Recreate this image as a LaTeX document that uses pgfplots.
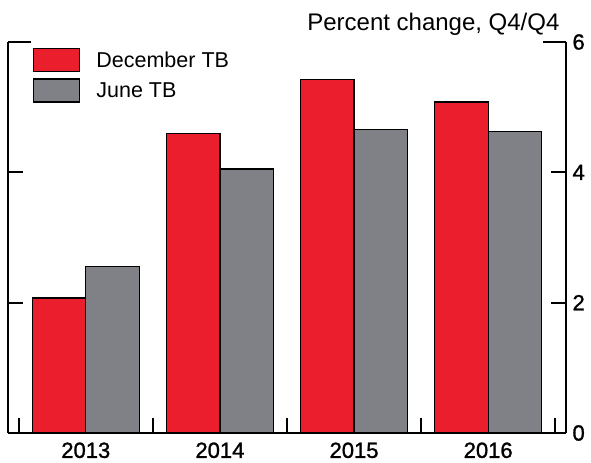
\documentclass[border=0pt]{standalone}
\usepackage{fontspec}
\setmainfont{Liberation Sans}
\newfontfamily\tickfont{Liberation Sans}[FakeBold=1.2]
\usepackage{pgfplots}
\pgfplotsset{compat=1.18}
\definecolor{tbred}{RGB}{234,30,45}
\definecolor{tbgray}{RGB}{128,129,134}

\begin{document}
\begin{tikzpicture}
\begin{axis}[
  scale only axis,
  width=558pt, height=391pt,
  xmin=-0.58, xmax=3.58,
  ymin=0, ymax=6,
  clip=false,
  axis x line*=bottom,
  axis line style={line width=1.8pt, -},
  ybar=0pt, bar width=0.4,
  xtick={-0.5,0.5,1.5,2.5,3.5}, xticklabels={},
  extra x ticks={0,1,2,3},
  extra x tick labels={2013,2014,2015,2016},
  extra x tick style={major tick length=0pt},
  ytick={0,2,4},
  extra y ticks={6},
  extra y tick style={major tick length=23pt},
  ytick pos=both, yticklabel pos=right,
  tick align=inside,
  major tick length=15pt,
  tick style={line width=1.8pt, black},
  /pgf/number format/assume math mode=true,
  tick label style={font=\tickfont\fontsize{22}{24}\selectfont},
  xticklabel style={yshift=-6pt},
  yticklabel style={xshift=3pt},
  legend style={at={(rel axis cs:0,1)}, anchor=north west,
    xshift=25pt, yshift=-6pt, draw=none, fill=none, inner sep=0pt,
    row sep=6pt, font=\fontsize{21.5}{24}\selectfont,
    /tikz/every odd column/.append style={column sep=14pt}},
  legend cell align=left,
  legend image code/.code={\draw[#1, draw=black, line width=1.2pt] (0pt,-11.5pt) rectangle (46pt,11.5pt);},
]
\addplot[fill=tbred, draw=black, line width=1.2pt] coordinates {(0,2.07) (1,4.59) (2,5.43) (3,5.08)};
\addplot[fill=tbgray, draw=black, line width=1.2pt] coordinates {(0,2.56) (1,4.05) (2,4.66) (3,4.63)};
\legend{December TB, June TB}
\node[anchor=base east, font=\fontsize{24}{28}\selectfont] at ([xshift=-3pt,yshift=11pt]rel axis cs:1,1) {Percent change, Q4/Q4};
\path ([shift={(-8pt,-30pt)}]rel axis cs:0,0) rectangle ([shift={(25pt,42pt)}]rel axis cs:1,1);
\end{axis}
\end{tikzpicture}
\end{document}
